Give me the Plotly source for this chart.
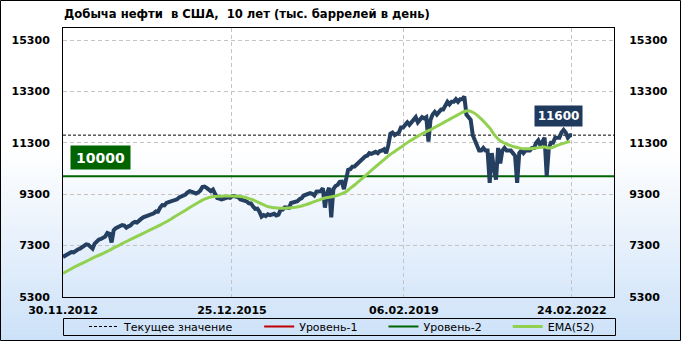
import plotly.graph_objects as go
import pandas as pd

# ---------------- data ----------------
title_text = "Добыча нефти\u00a0 в США,\u00a0 10 лет (тыс. баррелей в день)"
start_date = "2012-11-30"
end_date = "2022-11-30"

# weekly-sampled (every 2 weeks) US crude production, thousand b/d
production = [
    6860, 6900, 6980, 7020, 7050, 7040, 7110, 7150, 7180, 7230,
    7300, 7350, 7330, 7250, 7180, 7380, 7490, 7540, 7560, 7600,
    7650, 7790, 7760, 7420, 7900, 7980, 8010, 8080, 8100,
    8080, 8000, 8050, 8090, 8180, 8220, 8200, 8300, 8340, 8400,
    8430, 8470, 8480, 8500, 8560, 8630, 8620, 8780, 8880, 8870,
    8960, 8990, 9020, 9060, 9110, 9100,
    9180, 9210, 9230, 9290, 9370, 9420, 9390, 9370, 9330, 9370,
    9440, 9580, 9600, 9550, 9460, 9420, 9480, 9350, 9150, 9130,
    9100, 9120, 9170, 9180, 9160, 9220,
    9230, 9220, 9180, 9100, 9080, 9070, 9020, 8950, 8940, 8820,
    8730, 8740, 8620, 8430, 8490, 8450, 8520, 8490, 8500, 8540,
    8470, 8500, 8690, 8700, 8790, 8780,
    8770, 8960, 8980, 9000, 9030, 9110, 9150, 9250, 9290, 9310,
    9340, 9320, 9250, 9400, 9410, 9420, 9530, 8780, 9350, 9550,
    8400, 9500, 9620, 9660, 9780, 9790,
    9500, 9880, 10250, 10270, 10370, 10380, 10460, 10530, 10590, 10700,
    10770, 10800, 10900, 10870, 10900, 10950, 10900, 10980, 11000, 11050,
    10900, 11200, 11650, 11700, 11600, 11640,
    11700, 11900, 11900, 12000, 12100, 12000, 12100, 12200, 12300, 12100,
    12200, 12300, 12250, 12300, 11350, 12200, 12400, 12500, 12400, 12500,
    12600, 12600, 12800, 12900, 12800, 12900,
    12900, 13000, 12900, 13000, 13000, 13100, 12400, 12300, 12200, 11600,
    11400, 11100, 11000, 11000, 11100, 11000, 11000, 9740, 10900, 10300,
    9870, 11100, 10500, 11000, 11100, 11000,
    11000, 11000, 10900, 10800, 9740, 10900, 11000, 10900, 11000, 11000,
    11000, 11100, 11100, 11300, 11400, 11200, 11400, 11500, 10000, 11100,
    11300, 11300, 11500, 11500, 11500, 11700, 11800, 11700, 11500, 11600, 11600,
]

# EMA(52), sampled every 4 weeks
ema52 = [
    6220, 6310, 6400, 6490, 6570, 6650, 6730, 6810, 6890, 6960,
    7040, 7120, 7210, 7290, 7380, 7460, 7540, 7620, 7700, 7780,
    7860, 7940, 8020,
    8100, 8190, 8280, 8380, 8480, 8580, 8680, 8780, 8880, 8980, 9070,
    9140, 9190, 9210, 9220, 9230, 9230, 9230, 9220, 9210, 9180, 9130, 9080,
    9000, 8920, 8850, 8800, 8770, 8760, 8750, 8760, 8770, 8790, 8820,
    8870, 8920, 8980, 9040, 9100, 9150, 9180, 9210, 9260, 9320, 9400,
    9530, 9660, 9800, 9940, 10080, 10230, 10370, 10510, 10650, 10790, 10910, 11020, 11130,
    11250, 11360, 11460, 11560, 11650, 11740, 11810, 11900, 11990, 12080,
    12170, 12260, 12350, 12440, 12520, 12550,
    12490, 12380, 12230, 12060, 11880, 11640, 11450, 11330, 11250, 11190, 11140, 11100,
    11070, 11070, 11080, 11100, 11130, 11140, 11100, 11130, 11200, 11260, 11310, 11350,
]

current_value = 11600
level2_value = 10000
y_ticks = [5300, 7300, 9300, 11300, 13300, 15300]
y_range = [5300, 15770]
x_tick_dates = ["2012-11-30", "2015-12-25", "2019-02-06", "2022-02-24"]
x_tick_labels = ["30.11.2012", "25.12.2015", "06.02.2019", "24.02.2022"]
legend_names = ["Текущее значение", "Уровень-1", "Уровень-2", "EMA(52)"]

prod_dates = pd.date_range(start_date, periods=len(production), freq="14D")
ema_dates = pd.date_range(start_date, periods=len(ema52), freq="28D")

# ---------------- figure ----------------
W, H = 681, 341
L, R, T, B = 63, 67, 28, 44
pw, ph = W - L - R, H - T - B

FONT = "DejaVu Sans"
NAVY = "#243f60"
EMA_C = "#92d050"
GREEN = "#006400"
RED = "#c00000"
PAD = "\u00a0" * 6

fig = go.Figure()

fig.add_trace(go.Scatter(
    x=[start_date, end_date], y=[current_value, current_value], mode="lines",
    line=dict(color="black", width=1, dash="3px,2px"), name=legend_names[0] + PAD,
    hoverinfo="skip"))
fig.add_trace(go.Scatter(
    x=[None], y=[None], mode="lines", line=dict(color=RED, width=2),
    name=legend_names[1] + PAD))
fig.add_trace(go.Scatter(
    x=[start_date, end_date], y=[level2_value, level2_value], mode="lines",
    line=dict(color=GREEN, width=2), name=legend_names[2] + PAD, hoverinfo="skip"))
fig.add_trace(go.Scatter(
    x=prod_dates, y=production, mode="lines",
    line=dict(color=NAVY, width=4), showlegend=False))
fig.add_trace(go.Scatter(
    x=ema_dates, y=ema52, mode="lines", line=dict(color=EMA_C, width=3),
    name=legend_names[3], line_shape="spline"))
# invisible trace to carry right axis
fig.add_trace(go.Scatter(
    x=[start_date], y=[y_ticks[0]], yaxis="y2", mode="markers",
    marker=dict(opacity=0), showlegend=False, hoverinfo="skip"))


def px2py(py):
    return (H - B - py) / ph


def px2px(px):
    return (px - L) / pw


shapes = []
n = 60
g0 = 150
top_c = (255, 255, 255)
bot_c = (204, 225, 248)
for k in range(n):
    y0 = g0 + (H - g0) * k / n
    y1 = g0 + (H - g0) * (k + 1) / n + 0.5
    t = (k + 0.5) / n
    c = tuple(int(round(top_c[i] + (bot_c[i] - top_c[i]) * t)) for i in range(3))
    shapes.append(dict(type="rect", xref="paper", yref="paper", layer="below",
                       x0=px2px(0), x1=px2px(W), y0=px2py(y1), y1=px2py(y0),
                       line=dict(width=0), fillcolor="rgb(%d,%d,%d)" % c))
# outer border
shapes.append(dict(type="rect", xref="paper", yref="paper", layer="above",
                   x0=px2px(0.5), x1=px2px(W - 0.5), y0=px2py(H - 0.5), y1=px2py(0.5),
                   line=dict(color="black", width=1), fillcolor="rgba(0,0,0,0)"))
# legend frame
shapes.append(dict(type="rect", xref="paper", yref="paper", layer="above",
                   x0=px2px(63.5), x1=px2px(615.5), y0=px2py(335.5), y1=px2py(318.5),
                   line=dict(color="black", width=1), fillcolor="rgba(0,0,0,0)"))

axis_font = dict(family=FONT, size=11, color="black", weight="bold")

fig.update_layout(
    width=W, height=H,
    margin=dict(l=L, r=R, t=T, b=B),
    paper_bgcolor="white",
    plot_bgcolor="rgba(0,0,0,0)",
    shapes=shapes,
    title=dict(text=title_text, x=64 / W, xref="container", xanchor="left",
               y=1 - 14 / H, yref="container", yanchor="middle",
               font=dict(family=FONT, size=11.6, color="black", weight="bold")),
    xaxis=dict(type="date", range=[start_date, end_date],
               tickvals=x_tick_dates, ticktext=x_tick_labels,
               tickfont=axis_font, ticks="outside", ticklen=3,
               tickcolor="rgba(0,0,0,0)", automargin=False,
               showgrid=True, gridcolor="#c4c4c4", gridwidth=1, griddash="4px,3px",
               showline=True, linecolor="black", linewidth=1, mirror=True,
               zeroline=False, fixedrange=True),
    yaxis=dict(range=y_range, tickvals=y_ticks, tickformat="d", tickfont=axis_font,
               ticks="outside", ticklen=10, tickcolor="rgba(0,0,0,0)", automargin=False,
               showgrid=True, gridcolor="#c4c4c4", gridwidth=1, griddash="4px,3px",
               showline=True, linecolor="black", linewidth=1, mirror=True,
               zeroline=False),
    yaxis2=dict(range=y_range, tickvals=y_ticks, tickformat="d", tickfont=axis_font,
                overlaying="y", side="right", ticks="outside", ticklen=12,
                tickcolor="rgba(0,0,0,0)", showgrid=False, zeroline=False,
                showline=False, automargin=False),
    legend=dict(orientation="h", xref="container", x=342 / W, xanchor="center",
                yref="container", y=1 - 326.5 / H, yanchor="middle",
                font=dict(family=FONT, size=11, color="black"),
                bgcolor="rgba(0,0,0,0)", borderwidth=0),
    showlegend=True,
)

fig.add_annotation(text=str(level2_value), xref="paper", x=px2px(70), xanchor="left",
                   yref="y", y=level2_value, yanchor="bottom", yshift=6,
                   showarrow=False, bgcolor=GREEN, width=59, height=23, borderpad=0,
                   font=dict(family=FONT, size=14, color="white", weight="bold"))
fig.add_annotation(text=str(current_value), xref="paper", x=px2px(583), xanchor="right",
                   yref="y", y=current_value, yanchor="bottom", yshift=8,
                   showarrow=False, bgcolor="#1f3a5c", width=47, height=20, borderpad=0,
                   font=dict(family=FONT, size=12, color="white", weight="bold"))

fig.write_html("out.html")
